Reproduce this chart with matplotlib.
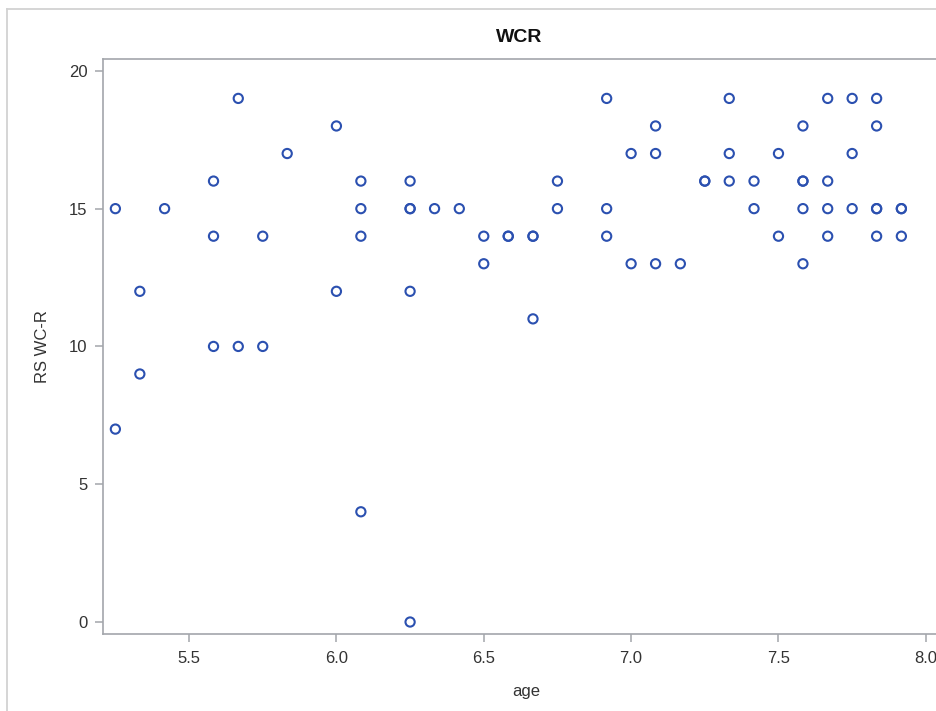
import matplotlib
matplotlib.use("Agg")
import matplotlib.pyplot as plt
from matplotlib.lines import Line2D

plt.rcParams['font.family'] = ['Liberation Sans', 'DejaVu Sans']

# Age in years (months / 12) and RS WC-R score for each child
age = [
    5.25, 5.25,
    5.333, 5.333,
    5.417,
    5.583, 5.583, 5.583,
    5.667, 5.667,
    5.75, 5.75,
    5.833,
    6.0, 6.0,
    6.083, 6.083, 6.083, 6.083,
    6.25, 6.25, 6.25, 6.25, 6.25,
    6.333,
    6.417,
    6.5, 6.5,
    6.583, 6.583,
    6.667, 6.667, 6.667,
    6.75, 6.75,
    6.917, 6.917, 6.917,
    7.0, 7.0,
    7.083, 7.083, 7.083,
    7.167,
    7.25, 7.25,
    7.333, 7.333, 7.333,
    7.417, 7.417,
    7.5, 7.5,
    7.583, 7.583, 7.583, 7.583, 7.583,
    7.667, 7.667, 7.667, 7.667,
    7.75, 7.75, 7.75,
    7.833, 7.833, 7.833, 7.833, 7.833,
    7.917, 7.917, 7.917,
]
rs_wcr = [
    15, 7,
    12, 9,
    15,
    16, 14, 10,
    19, 10,
    14, 10,
    17,
    18, 12,
    16, 15, 14, 4,
    16, 15, 15, 12, 0,
    15,
    15,
    14, 13,
    14, 14,
    14, 14, 11,
    16, 15,
    19, 15, 14,
    17, 13,
    18, 17, 13,
    13,
    16, 16,
    19, 17, 16,
    16, 15,
    17, 14,
    18, 16, 16, 15, 13,
    19, 16, 15, 14,
    19, 17, 15,
    19, 18, 15, 15, 14,
    15, 15, 14,
]

x_ticks = [5.5, 6.0, 6.5, 7.0, 7.5, 8.0]
y_ticks = [0, 5, 10, 15, 20]

W, H = 936, 711
fig = plt.figure(figsize=(W / 100, H / 100), dpi=100)

# plot frame in pixel terms
left_px, right_px, top_px, bottom_px = 103, 950, 59, 634
ax = fig.add_axes([left_px / W, 1 - bottom_px / H,
                   (right_px - left_px) / W, (bottom_px - top_px) / H])

marker_color = '#2b50b0'
ax.scatter(age, rs_wcr, s=44, facecolors='none', edgecolors=marker_color,
           linewidths=1.5, zorder=3)

ax.set_xlim(5.208, 8.082)
ax.set_ylim(-0.435, 20.43)
ax.set_xticks(x_ticks)
ax.set_xticklabels([f"{v:.1f}" for v in x_ticks])
ax.set_yticks(y_ticks)
ax.set_yticklabels([str(v) for v in y_ticks])

spine_color = '#a3a6ab'
for s in ax.spines.values():
    s.set_color(spine_color)
    s.set_linewidth(1.2)

ax.tick_params(axis='both', colors=spine_color, labelcolor='#333333',
               length=6, width=1.1, labelsize=12)
ax.tick_params(axis='x', pad=6)
ax.tick_params(axis='y', pad=5)

ax.set_xlabel('age', fontsize=12, color='#333333', labelpad=13)
ax.set_ylabel('RS WC-R', fontsize=12, color='#333333', labelpad=14)

fig.text(519 / W, 1 - 38 / H, 'WCR', ha='center', va='center',
         fontsize=14, fontweight='bold', color='#111111')

# light outer border of the graph area
border = '#d2d2d2'
fig.add_artist(Line2D([7.5 / W, 7.5 / W], [0, 1 - 8.5 / H], transform=fig.transFigure,
                      color=border, linewidth=1.3))
fig.add_artist(Line2D([7.5 / W, 1], [1 - 8.5 / H, 1 - 8.5 / H], transform=fig.transFigure,
                      color=border, linewidth=1.3))

fig.savefig('out.png', dpi=100)
